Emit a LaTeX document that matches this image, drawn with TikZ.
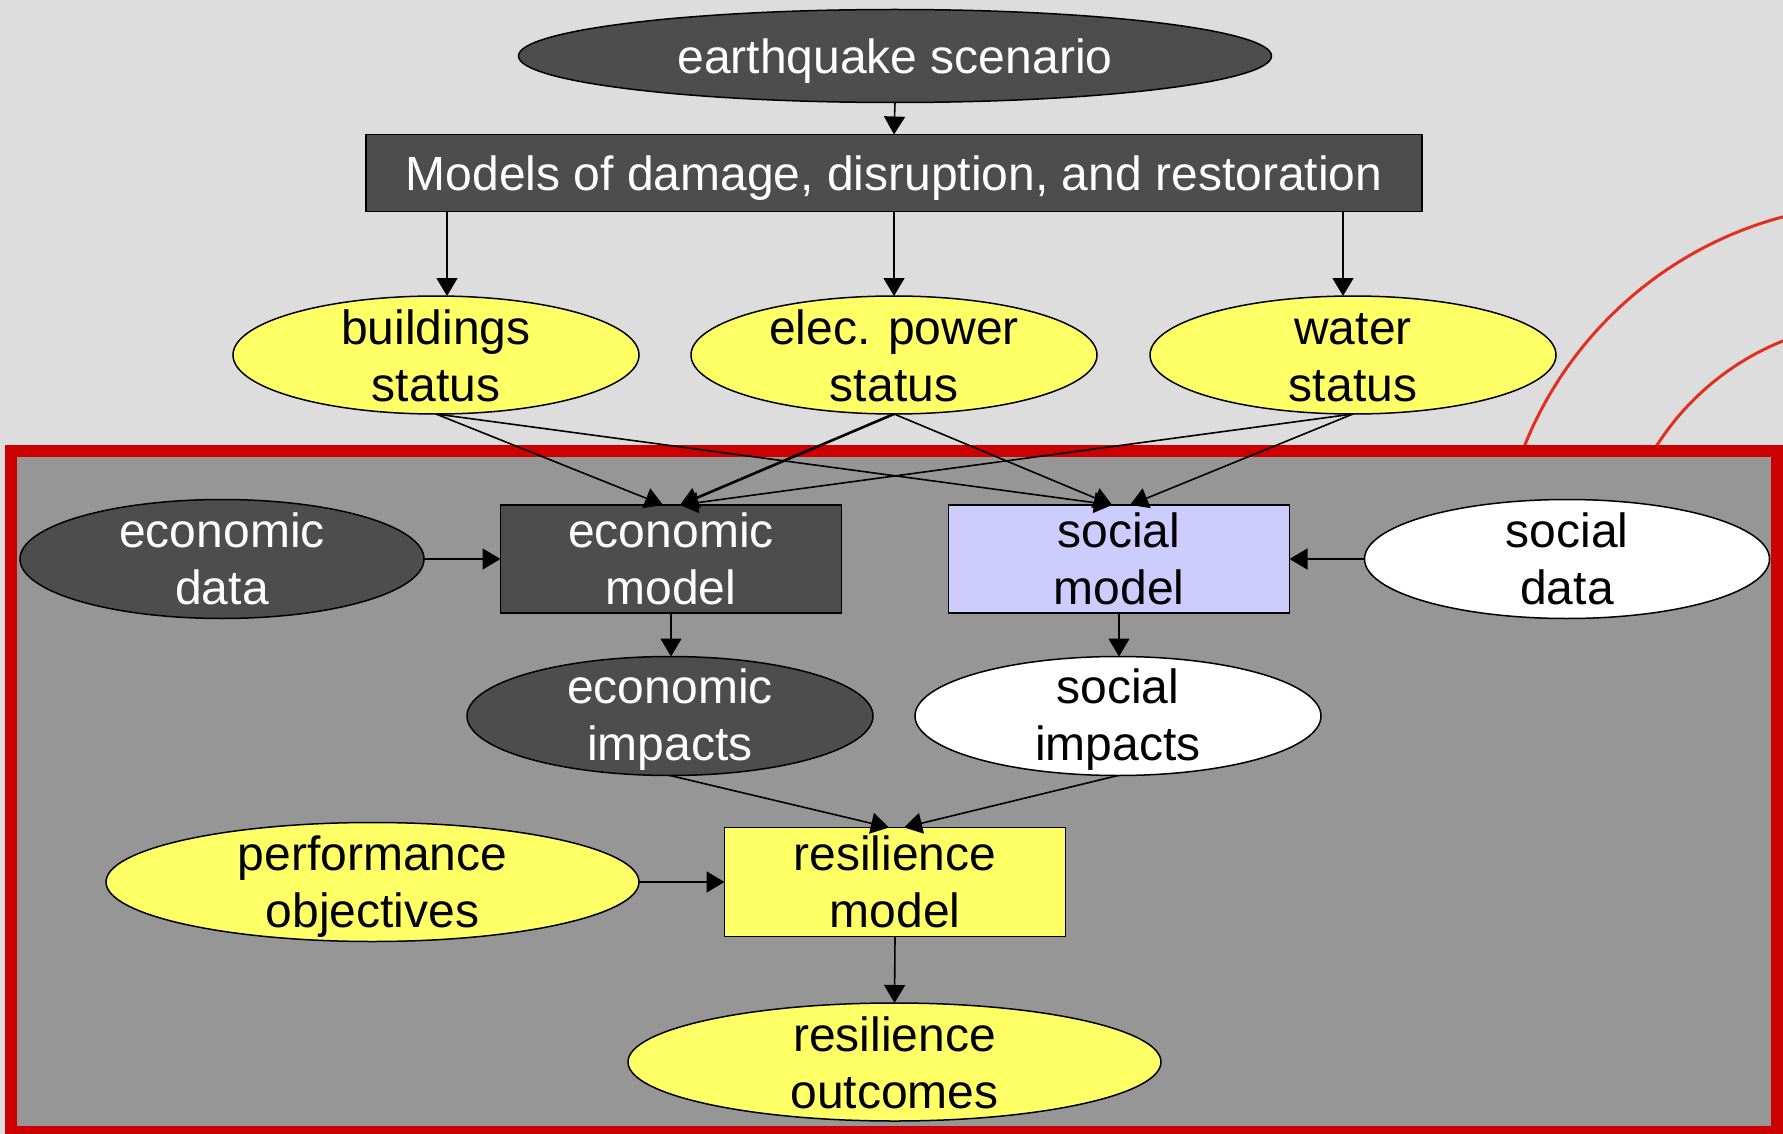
\documentclass[tikz,border=0pt]{standalone}
\usepackage{fontspec}
\setmainfont{Liberation Sans}
\usetikzlibrary{shapes.geometric,arrows.meta}
\definecolor{bgc}{HTML}{DDDDDD}
\definecolor{panel}{HTML}{969696}
\definecolor{darkc}{HTML}{4D4D4D}
\definecolor{yel}{HTML}{FFFF66}
\definecolor{lav}{HTML}{CCCCFF}
\definecolor{framec}{HTML}{CC0000}
\definecolor{wave}{HTML}{E03020}
\begin{document}
\begin{tikzpicture}[x=1pt,y=-1pt,
 ell/.style={ellipse,draw=black,line width=1.5pt,inner sep=0pt,outer sep=0pt},
 rbox/.style={rectangle,draw=black,line width=1.5pt,inner sep=0pt,outer sep=0pt},
 txt/.style={font=\fontsize{48}{57}\selectfont,align=center,inner sep=0pt},
 wtxt/.style={txt,text=white},
 btxt/.style={txt,text=black},
 arr/.style={-{Triangle[length=18pt,width=21pt]},line width=1.6pt,draw=black},
]
\useasboundingbox (0,0) rectangle (1783,1134);
\clip (0,0) rectangle (1783,1134);
\fill[bgc] (0,0) rectangle (1783,1134);
% waves
\draw[wave,line width=3pt] (1882,589) circle[radius=385pt];
\draw[wave,line width=3pt] (1882,589) circle[radius=267pt];
% frame
\draw[framec,line width=12pt,fill=panel] (11,451) rectangle (1776.5,1132);

% nodes
\node[ell,fill=darkc,minimum width=753pt,minimum height=93pt] (eq) at (895,56) {};
\node[wtxt] (eqt) at ([yshift=-5pt]eq.center) {earthquake scenario};
\node[rbox,fill=darkc,minimum width=1056pt,minimum height=77pt] (mod) at (894,173) {};
\node[wtxt] (modt) at ([yshift=-5pt]mod.center) {Models of damage, disruption, and restoration};

\node[ell,fill=yel,minimum width=406pt,minimum height=118pt] (bs) at (436,355) {};
\node[btxt] (bst) at ([yshift=-1pt]bs.center) {buildings\\status};
\node[ell,fill=yel,minimum width=406pt,minimum height=118pt] (ep) at (894,355) {};
\node[btxt] (ept) at ([yshift=-1pt]ep.center) {elec. power\\status};
\node[ell,fill=yel,minimum width=406pt,minimum height=118pt] (ws) at (1353,355) {};
\node[btxt] (wst) at ([yshift=-3pt]ws.center) {water\\status};

\node[ell,fill=darkc,minimum width=404pt,minimum height=119pt] (ed) at (222,559) {};
\node[wtxt] (edt) at (ed.center) {economic\\data};
\node[rbox,fill=darkc,minimum width=341pt,minimum height=108pt] (em) at (671,559) {};
\node[wtxt] (emt) at (em.center) {economic\\model};
\node[rbox,fill=lav,minimum width=341pt,minimum height=108pt] (sm) at (1119,559) {};
\node[btxt] (smt) at (sm.center) {social\\model};
\node[ell,fill=white,minimum width=405pt,minimum height=119pt] (sd) at (1567,559) {};
\node[btxt] (sdt) at (sd.center) {social\\data};

\node[ell,fill=darkc,minimum width=406pt,minimum height=119pt] (ei) at (670,716) {};
\node[wtxt] (eit) at ([yshift=-4pt]ei.center) {economic\\impacts};
\node[ell,fill=white,minimum width=406pt,minimum height=119pt] (si) at (1118,716) {};
\node[btxt] (sit) at ([yshift=-4pt]si.center) {social\\impacts};

\node[ell,fill=yel,minimum width=533pt,minimum height=119pt] (po) at (372.5,882) {};
\node[btxt] (pot) at ([yshift=-5pt]po.center) {performance\\objectives};
\node[rbox,fill=yel,minimum width=341pt,minimum height=109pt] (rm) at (895,882) {};
\node[btxt] (rmt) at (rm.center) {resilience\\model};
\node[ell,fill=yel,minimum width=533pt,minimum height=118pt] (ro) at (894.5,1062) {};
\node[btxt] (rot) at ([yshift=-1pt]ro.center) {resilience\\outcomes};

% connectors
\draw[arr] (eq.south) -- (mod.north);
\draw[arr] ([xshift=-447pt]mod.south) -- ([xshift=11pt]bs.north);
\draw[arr] (mod.south) -- (ep.north);
\draw[arr] ([xshift=449pt]mod.south) -- ([xshift=-10pt]ws.north);
\draw[arr] (bs.south) -- ([xshift=-8pt]em.north);
\draw[arr,line width=2.6pt] (ep.south) -- ([xshift=9pt]em.north);
\draw[arr] (ws.south) -- ([xshift=9pt]em.north);
\draw[arr] (bs.south) -- ([xshift=-7pt]sm.north);
\draw[arr] (ep.south) -- ([xshift=-7pt]sm.north);
\draw[arr] (ws.south) -- ([xshift=11pt]sm.north);
\draw[arr] (ed.east) -- (em.west);
\draw[arr] (sd.west) -- (sm.east);
\draw[arr] (em.south) -- (em.south |- ei.north);
\draw[arr] (sm.south) -- (sm.south |- si.north);
\draw[arr] (ei.south) -- ([xshift=-6pt]rm.north);
\draw[arr] (si.south) -- ([xshift=9pt]rm.north);
\draw[arr] (po.east) -- (rm.west);
\draw[arr] (rm.south) -- (ro.north);
\end{tikzpicture}
\end{document}
